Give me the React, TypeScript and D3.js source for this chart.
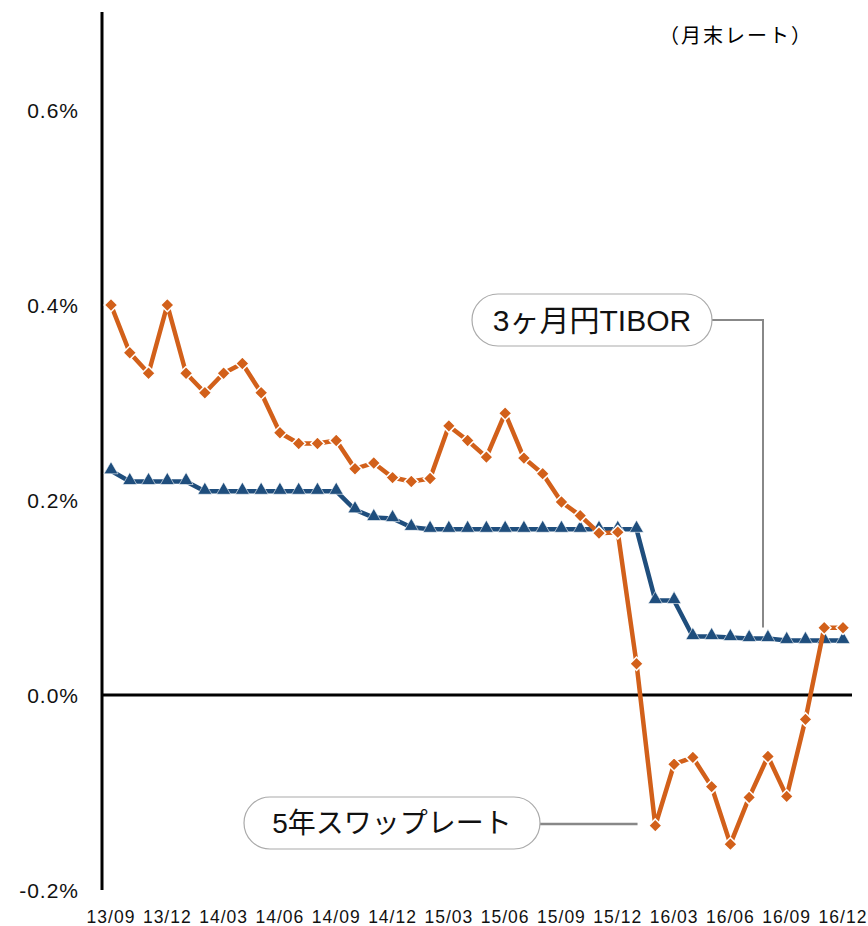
import { useEffect, useRef } from "react";
import * as d3 from "d3";

const months = [
  "13/09", "13/10", "13/11", "13/12", "14/01", "14/02", "14/03", "14/04", "14/05", "14/06",
  "14/07", "14/08", "14/09", "14/10", "14/11", "14/12", "15/01", "15/02", "15/03", "15/04",
  "15/05", "15/06", "15/07", "15/08", "15/09", "15/10", "15/11", "15/12", "16/01", "16/02",
  "16/03", "16/04", "16/05", "16/06", "16/07", "16/08", "16/09", "16/10", "16/11", "16/12",
];

const tickMonths = ["13/09", "13/12", "14/03", "14/06", "14/09", "14/12", "15/03", "15/06", "15/09", "15/12", "16/03", "16/06", "16/09", "16/12"];
const yTicks = [-0.2, 0.0, 0.2, 0.4, 0.6];

// 5年スワップレート (%)
const swap = [
  0.400, 0.351, 0.330, 0.400, 0.330, 0.310, 0.330, 0.340, 0.310, 0.269,
  0.258, 0.258, 0.261, 0.232, 0.238, 0.223, 0.219, 0.222, 0.276, 0.261,
  0.244, 0.289, 0.243, 0.227, 0.198, 0.184, 0.166, 0.167, 0.032, -0.134,
  -0.071, -0.064, -0.094, -0.153, -0.105, -0.063, -0.104, -0.025, 0.069, 0.069,
];

// 3ヶ月円TIBOR (%)
const tibor = [
  0.230, 0.219, 0.219, 0.219, 0.219, 0.209, 0.209, 0.209, 0.209, 0.209,
  0.209, 0.209, 0.209, 0.190, 0.182, 0.181, 0.172, 0.170, 0.170, 0.170,
  0.170, 0.170, 0.170, 0.170, 0.170, 0.170, 0.170, 0.170, 0.170, 0.097,
  0.097, 0.060, 0.060, 0.059, 0.058, 0.058, 0.056, 0.056, 0.056, 0.056,
];

const ORANGE = "#D2601A";
const BLUE = "#1F4E7D";
const JP = "'Liberation Sans', 'Noto Sans CJK JP', sans-serif";

export default function App() {
  const ref = useRef<SVGSVGElement>(null);

  useEffect(() => {
    const svg = d3.select(ref.current);
    svg.selectAll("*").remove();

    const x = d3.scalePoint<string>().domain(months).range([111, 843]);
    const y = d3.scaleLinear().domain([-0.2, 0.6]).range([890, 110]);

    // y tick labels
    svg.append("g")
      .selectAll("text")
      .data(yTicks)
      .join("text")
      .attr("x", 79)
      .attr("y", (d) => y(d) + 8)
      .attr("text-anchor", "end")
      .style("font-family", "'Liberation Sans', sans-serif")
      .style("font-size", "21px")
      .style("letter-spacing", "1px")
      .attr("fill", "#111")
      .text((d) => d.toFixed(1) + "%");

    // x tick labels
    svg.append("g")
      .selectAll("text")
      .data(tickMonths)
      .join("text")
      .attr("x", (d) => x(d)!)
      .attr("y", 923)
      .attr("text-anchor", "middle")
      .style("font-family", "'Liberation Sans Narrow', 'Liberation Sans', sans-serif")
      .style("font-size", "17.5px")
      .style("letter-spacing", "1px")
      .attr("fill", "#111")
      .text((d) => d);

    // axes
    svg.append("line")
      .attr("x1", 102).attr("x2", 102)
      .attr("y1", 12).attr("y2", 890)
      .attr("stroke", "#000").attr("stroke-width", 3);
    svg.append("line")
      .attr("x1", 102).attr("x2", 852)
      .attr("y1", y(0)).attr("y2", y(0))
      .attr("stroke", "#000").attr("stroke-width", 3);

    // callout connectors
    svg.append("path")
      .attr("d", `M712,320 H763 V${y(tibor[34]) - 11}`)
      .attr("fill", "none").attr("stroke", "#888").attr("stroke-width", 2);
    svg.append("path")
      .attr("d", `M540,824 H${x(months[28])! + 1}`)
      .attr("fill", "none").attr("stroke", "#888").attr("stroke-width", 2.5);

    const line = d3.line<number>()
      .x((_, i) => x(months[i])!)
      .y((d) => y(d));

    // TIBOR
    svg.append("path")
      .datum(tibor)
      .attr("d", line)
      .attr("fill", "none")
      .attr("stroke", BLUE)
      .attr("stroke-width", 4.5)
      .attr("stroke-linejoin", "round");
    const tri = d3.symbol().type(d3.symbolTriangle).size(85);
    svg.append("g")
      .selectAll("path")
      .data(tibor)
      .join("path")
      .attr("d", tri)
      .attr("transform", (d, i) => `translate(${x(months[i])},${y(d) - 1})`)
      .attr("fill", BLUE)
      .attr("stroke", "#fff")
      .attr("stroke-width", 0.6);

    // swap
    svg.append("path")
      .datum(swap)
      .attr("d", line)
      .attr("fill", "none")
      .attr("stroke", ORANGE)
      .attr("stroke-width", 4.5)
      .attr("stroke-linejoin", "round");
    const dia = d3.symbol().type(d3.symbolDiamond2).size(115);
    svg.append("g")
      .selectAll("path")
      .data(swap)
      .join("path")
      .attr("d", dia)
      .attr("transform", (d, i) => `translate(${x(months[i])},${y(d)})`)
      .attr("fill", ORANGE)
      .attr("stroke", "#fff")
      .attr("stroke-width", 1.5);

    // callout boxes
    const boxes = [
      { label: "3ヶ月円TIBOR", x0: 472, x1: 712, cy: 320, fs: 30 },
      { label: "5年スワップレート", x0: 244, x1: 540, cy: 823, fs: 28 },
    ];
    boxes.forEach((b) => {
      svg.append("rect")
        .attr("x", b.x0).attr("y", b.cy - 26)
        .attr("width", b.x1 - b.x0).attr("height", 52)
        .attr("rx", 26).attr("ry", 26)
        .attr("fill", "#fff")
        .attr("stroke", "#aaa")
        .attr("stroke-width", 1.2);
      svg.append("text")
        .attr("x", (b.x0 + b.x1) / 2)
        .attr("y", b.cy)
        .attr("dy", "0.36em")
        .attr("text-anchor", "middle")
        .style("font-family", JP)
        .style("font-size", `${b.fs}px`)
        .attr("fill", "#111")
        .text(b.label);
    });

    svg.append("text")
      .attr("x", 736)
      .attr("y", 36)
      .attr("dy", "0.35em")
      .attr("text-anchor", "middle")
      .style("font-family", "'Noto Sans CJK JP', sans-serif")
      .style("font-size", "20px")
      .style("letter-spacing", "2px")
      .attr("fill", "#000")
      .text("（月末レート）");
  }, []);

  return (
    <svg
      ref={ref}
      width={868}
      height={926}
      style={{ position: "absolute", left: 0, top: 0, background: "#fff" }}
    />
  );
}
